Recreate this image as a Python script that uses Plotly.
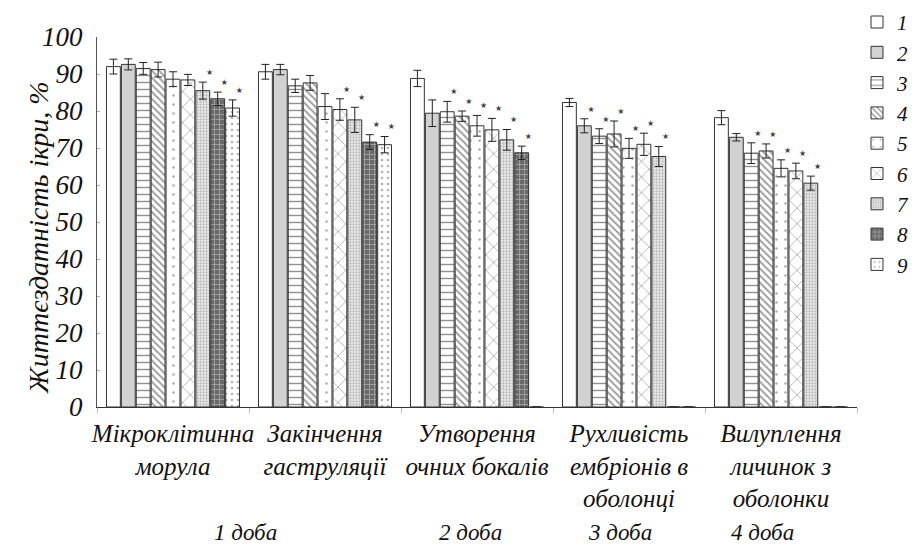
import plotly.graph_objects as go

categories = ["Мікроклітинна<br>морула", "Закінчення<br>гаструляції", "Утворення<br>очних бокалів",
              "Рухливість<br>ембріонів в<br>оболонці", "Вилуплення<br>личинок з<br>оболонки"]
series_names = ["1", "2", "3", "4", "5", "6", "7", "8", "9"]

# values[series][category]
values = [
    [92.0, 90.6, 88.8, 82.3, 78.2],
    [92.6, 91.2, 79.4, 76.0, 72.9],
    [91.5, 86.8, 79.8, 73.2, 68.6],
    [91.2, 87.6, 78.6, 73.8, 69.2],
    [88.6, 81.2, 76.0, 69.9, 64.5],
    [88.4, 80.4, 74.9, 71.0, 63.8],
    [85.5, 77.6, 72.2, 67.7, 60.5],
    [83.3, 71.6, 68.7, 0, 0],
    [80.8, 70.9, 0, 0, 0],
]
errors = [
    [2.0, 2.0, 2.2, 1.1, 1.9],
    [1.5, 1.4, 3.6, 1.9, 1.0],
    [1.6, 1.8, 2.8, 2.0, 2.8],
    [2.0, 2.0, 1.4, 3.5, 1.9],
    [2.0, 3.5, 2.8, 2.7, 2.3],
    [1.5, 2.9, 3.1, 3.0, 2.1],
    [2.3, 3.4, 2.8, 2.7, 1.9],
    [1.8, 2.0, 1.8, None, None],
    [2.2, 2.2, None, None, None],
]
# significance markers (1 = star)
stars = [
    [0, 0, 0, 0, 0],
    [0, 0, 0, 1, 0],
    [0, 0, 1, 1, 1],
    [0, 0, 1, 1, 1],
    [0, 0, 1, 1, 1],
    [0, 1, 1, 1, 1],
    [1, 1, 1, 1, 1],
    [1, 1, 1, 0, 0],
    [1, 1, 0, 0, 0],
]
day_labels = ["1 доба", "2 доба", "3 доба", "4 доба"]
day_positions = [0.474, 1.954, 2.94, 3.875]
y_title = "Життєздатність ікри, %"

styles = [
    dict(color="white", pattern=dict(shape="")),
    dict(color="#d2d2d2", pattern=dict(shape="")),
    dict(color="white", pattern=dict(shape="-", fgcolor="#222", size=7, solidity=0.2)),
    dict(color="white", pattern=dict(shape="\\", fgcolor="#333", size=5, solidity=0.35)),
    dict(color="white", pattern=dict(shape=".", fgcolor="#555", size=9, solidity=0.06)),
    dict(color="white", pattern=dict(shape="x", fgcolor="#333", size=11, solidity=0.12)),
    dict(color="#e6e6e6", pattern=dict(shape=".", fgcolor="#888", bgcolor="#ececec", size=3, solidity=0.45)),
    dict(color="#6a6a6a", pattern=dict(shape="+", fgcolor="#e0e0e0", bgcolor="#6a6a6a", size=5, solidity=0.3)),
    dict(color="white", pattern=dict(shape=".", fgcolor="#666", size=6, solidity=0.15)),
]

step = 0.098
n = len(series_names)
fig = go.Figure()
star_x, star_y = [], []
for j, name in enumerate(series_names):
    xs = [i + (j - (n - 1) / 2) * step for i in range(len(categories))]
    fig.add_trace(go.Bar(
        x=xs, y=values[j], width=step * 0.93, name=name,
        marker=dict(color=styles[j]["color"], pattern=styles[j]["pattern"],
                    line=dict(color="#333", width=1)),
        error_y=dict(type="data", array=errors[j], color="#222", thickness=1, width=4),
    ))
    for i in range(len(categories)):
        if stars[j][i]:
            star_x.append(xs[i] + step * 0.45)
            star_y.append(values[j][i] + (errors[j][i] or 0) + 2.5)

fig.add_trace(go.Scatter(x=star_x, y=star_y, mode="text", text=["★"] * len(star_x),
                         textfont=dict(size=8, color="#444", family="DejaVu Sans"),
                         showlegend=False, hoverinfo="skip"))

for lbl, pos in zip(day_labels, day_positions):
    fig.add_annotation(x=pos, y=-0.3405, xref="x", yref="paper", text=lbl, showarrow=False,
                       font=dict(size=23, family="Liberation Serif", style="italic", color="#111"),
                       yanchor="middle")

fig.add_annotation(x=-0.101, y=0.459, xref="paper", yref="paper", text=y_title, showarrow=False,
                   textangle=-90, font=dict(size=28, family="Liberation Serif", style="italic", color="#111"))

fig.update_layout(
    width=913, height=549,
    margin=dict(l=97, r=56, t=37, b=142, autoexpand=False),
    plot_bgcolor="white", paper_bgcolor="white",
    barmode="overlay",
    font=dict(family="Liberation Serif", style="italic", color="#111", size=22),
    legend=dict(x=1.0, y=1.095, xanchor="left", yanchor="top", maxheight=500,
                font=dict(size=21, family="Liberation Serif", style="italic"),
                tracegroupgap=0, itemwidth=30, bgcolor="rgba(0,0,0,0)"),
    xaxis=dict(range=[-0.5, 4.5], tickvals=list(range(len(categories))), ticktext=categories,
               ticks="", showline=True, linecolor="#333", linewidth=1, showgrid=False, zeroline=False,
               tickfont=dict(size=25, family="Liberation Serif"), tickangle=0, automargin=False,
               ticklabelstandoff=4,
               minor=dict(tick0=0.5, dtick=1, ticks="outside", ticklen=5, tickcolor="#bbb")),
    yaxis=dict(range=[0, 100], dtick=10, showline=True, linecolor="#555", linewidth=1,
               showgrid=False, zeroline=False, ticks="inside", ticklen=3, tickcolor="#aaa",
               tickfont=dict(size=27), automargin=False, ticklabelstandoff=8),
)

fig.write_html("out.html", config={"displayModeBar": False},
               post_script="document.body.style.margin='0';")
